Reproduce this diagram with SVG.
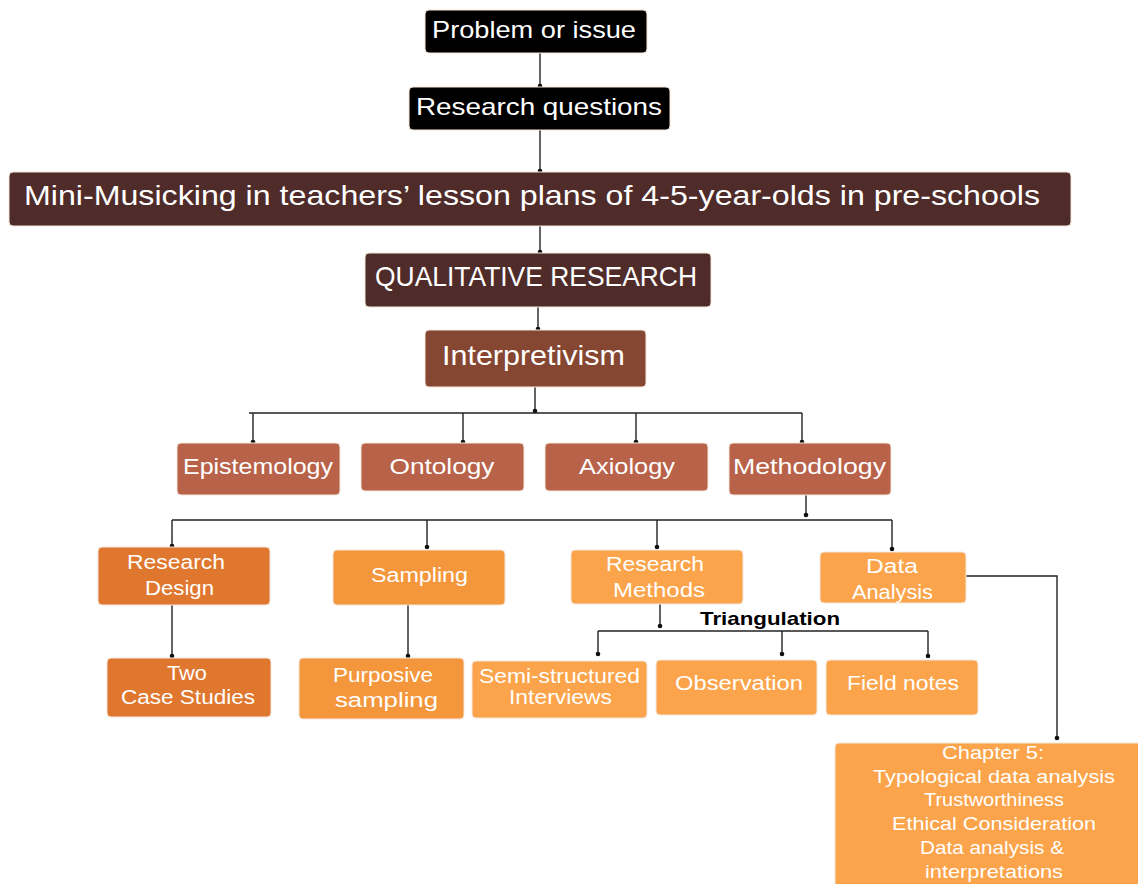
<svg xmlns="http://www.w3.org/2000/svg" width="1138" height="884" viewBox="0 0 1138 884">
  <defs>
    <marker id="dot" viewBox="0 0 6 6" refX="3" refY="3" markerWidth="6" markerHeight="6" markerUnits="userSpaceOnUse">
      <circle cx="3" cy="3" r="2.3" fill="#111"/>
    </marker>
  </defs>
  <style>
    .box { stroke: #f3e6dc; stroke-width: 1; }
    .k { fill: #000000; }
    .dk { fill: #4f2c29; }
    .ip { fill: #854632; }
    .l3 { fill: #b9624a; }
    .rd { fill: #df772f; }
    .sm { fill: #f4963b; }
    .lt { fill: #fba44b; }
    text { font-family: "Liberation Sans", Arial, sans-serif; fill: #ffffff; text-anchor: middle; }
    .t24 { font-size: 24px; }
    .t28 { font-size: 28px; }
    .t22 { font-size: 22px; }
    .t20 { font-size: 20px; }
    .t19 { font-size: 19px; }
    .tri { font-size: 19px; font-weight: bold; fill: #000000; }
    .c { fill: none; stroke: #222; stroke-width: 1.4; }
  </style>

  <rect width="1138" height="884" fill="#ffffff"/>

  <!-- connectors -->
  <g id="connectors">
    <path class="c" d="M540 53 V86" marker-end="url(#dot)"/>
    <path class="c" d="M540 130 V171" marker-end="url(#dot)"/>
    <path class="c" d="M540 226 V252" marker-end="url(#dot)"/>
    <path class="c" d="M538 307 V329" marker-end="url(#dot)"/>
    <path class="c" d="M535 387 V411" marker-end="url(#dot)"/>
    <path class="c" d="M249 413 H802"/>
    <path class="c" d="M253 413 V442" marker-end="url(#dot)"/>
    <path class="c" d="M463 413 V442" marker-end="url(#dot)"/>
    <path class="c" d="M636 413 V442" marker-end="url(#dot)"/>
    <path class="c" d="M802 413 V442" marker-end="url(#dot)"/>
    <path class="c" d="M806 495 V515" marker-end="url(#dot)"/>
    <path class="c" d="M172 520 H892"/>
    <path class="c" d="M172 520 V546" marker-end="url(#dot)"/>
    <path class="c" d="M427 520 V547" marker-end="url(#dot)"/>
    <path class="c" d="M657 520 V547" marker-end="url(#dot)"/>
    <path class="c" d="M892 520 V549" marker-end="url(#dot)"/>
    <path class="c" d="M172 605 V656" marker-end="url(#dot)"/>
    <path class="c" d="M408 605 V656" marker-end="url(#dot)"/>
    <path class="c" d="M660 604 V626" marker-end="url(#dot)"/>
    <path class="c" d="M598 631 H928"/>
    <path class="c" d="M598 631 V654" marker-end="url(#dot)"/>
    <path class="c" d="M782 631 V654" marker-end="url(#dot)"/>
    <path class="c" d="M928 631 V656" marker-end="url(#dot)"/>
    <path class="c" d="M966 576 H1057 V738" marker-end="url(#dot)"/>
  </g>

  <g id="problem">
    <rect class="box k" x="425" y="10" width="222" height="43" rx="4"/>
    <text class="t24" x="534" y="38" textLength="204" lengthAdjust="spacingAndGlyphs">Problem or issue</text>
  </g>
  <g id="questions">
    <rect class="box k" x="409" y="87" width="261" height="43" rx="4"/>
    <text class="t24" x="539" y="115" textLength="246" lengthAdjust="spacingAndGlyphs">Research questions</text>
  </g>
  <g id="topic">
    <rect class="box dk" x="9" y="172" width="1062" height="54" rx="4"/>
    <text class="t28" x="532" y="205" textLength="1016" lengthAdjust="spacingAndGlyphs">Mini-Musicking in teachers’ lesson plans of 4-5-year-olds in pre-schools</text>
  </g>
  <g id="qualitative">
    <rect class="box dk" x="365" y="253" width="346" height="54" rx="4"/>
    <text class="t28" x="536" y="286" textLength="322" lengthAdjust="spacingAndGlyphs">QUALITATIVE RESEARCH</text>
  </g>
  <g id="interpretivism">
    <rect class="box ip" x="425" y="330" width="221" height="57" rx="4"/>
    <text class="t28" x="533.5" y="365" textLength="183" lengthAdjust="spacingAndGlyphs">Interpretivism</text>
  </g>

  <g id="epistemology">
    <rect class="box l3" x="177" y="443" width="163" height="52" rx="4"/>
    <text class="t22" x="258" y="474" textLength="150" lengthAdjust="spacingAndGlyphs">Epistemology</text>
  </g>
  <g id="ontology">
    <rect class="box l3" x="361" y="443" width="163" height="48" rx="4"/>
    <text class="t22" x="442" y="474" textLength="105" lengthAdjust="spacingAndGlyphs">Ontology</text>
  </g>
  <g id="axiology">
    <rect class="box l3" x="545" y="443" width="163" height="48" rx="4"/>
    <text class="t22" x="627" y="474" textLength="96" lengthAdjust="spacingAndGlyphs">Axiology</text>
  </g>
  <g id="methodology">
    <rect class="box l3" x="729" y="443" width="162" height="52" rx="4"/>
    <text class="t22" x="809.5" y="474" textLength="153" lengthAdjust="spacingAndGlyphs">Methodology</text>
  </g>

  <g id="research-design">
    <rect class="box rd" x="98" y="547" width="172" height="58" rx="4"/>
    <text class="t20" x="176" y="569" textLength="98" lengthAdjust="spacingAndGlyphs">Research</text>
    <text class="t20" x="179.5" y="595" textLength="69" lengthAdjust="spacingAndGlyphs">Design</text>
  </g>
  <g id="sampling">
    <rect class="box sm" x="333" y="550" width="172" height="55" rx="4"/>
    <text class="t20" x="419.5" y="582" textLength="97" lengthAdjust="spacingAndGlyphs">Sampling</text>
  </g>
  <g id="research-methods">
    <rect class="box lt" x="571" y="550" width="172" height="54" rx="4"/>
    <text class="t20" x="655" y="571" textLength="98" lengthAdjust="spacingAndGlyphs">Research</text>
    <text class="t20" x="659" y="597" textLength="92" lengthAdjust="spacingAndGlyphs">Methods</text>
  </g>
  <g id="data-analysis">
    <rect class="box lt" x="820" y="552" width="146" height="51" rx="4"/>
    <text class="t20" x="892" y="573" textLength="52" lengthAdjust="spacingAndGlyphs">Data</text>
    <text class="t20" x="892.5" y="599" textLength="81" lengthAdjust="spacingAndGlyphs">Analysis</text>
  </g>

  <g id="case-studies">
    <rect class="box rd" x="107" y="658" width="164" height="59" rx="4"/>
    <text class="t20" x="187" y="680" textLength="40" lengthAdjust="spacingAndGlyphs">Two</text>
    <text class="t20" x="188" y="704" textLength="134" lengthAdjust="spacingAndGlyphs">Case Studies</text>
  </g>
  <g id="purposive">
    <rect class="box sm" x="299" y="658" width="165" height="61" rx="4"/>
    <text class="t20" x="383" y="682" textLength="100" lengthAdjust="spacingAndGlyphs">Purposive</text>
    <text class="t20" x="386.5" y="707" textLength="103" lengthAdjust="spacingAndGlyphs">sampling</text>
  </g>

  <text class="tri" x="770" y="625" textLength="140" lengthAdjust="spacingAndGlyphs">Triangulation</text>

  <g id="interviews">
    <rect class="box lt" x="472" y="661" width="175" height="57" rx="4"/>
    <text class="t20" x="559.5" y="683" textLength="161" lengthAdjust="spacingAndGlyphs">Semi-structured</text>
    <text class="t20" x="560.5" y="704" textLength="103" lengthAdjust="spacingAndGlyphs">Interviews</text>
  </g>
  <g id="observation">
    <rect class="box lt" x="656" y="660" width="161" height="55" rx="4"/>
    <text class="t20" x="739" y="690" textLength="128" lengthAdjust="spacingAndGlyphs">Observation</text>
  </g>
  <g id="field-notes">
    <rect class="box lt" x="826" y="660" width="152" height="55" rx="4"/>
    <text class="t20" x="903" y="690" textLength="112" lengthAdjust="spacingAndGlyphs">Field notes</text>
  </g>

  <g id="chapter5">
    <rect class="box lt" x="835" y="743" width="310" height="150" rx="4"/>
    <text class="t19" x="993" y="759" textLength="102" lengthAdjust="spacingAndGlyphs">Chapter 5:</text>
    <text class="t19" x="994" y="783" textLength="242" lengthAdjust="spacingAndGlyphs">Typological data analysis</text>
    <text class="t19" x="994" y="806" textLength="140" lengthAdjust="spacingAndGlyphs">Trustworthiness</text>
    <text class="t19" x="994" y="830" textLength="204" lengthAdjust="spacingAndGlyphs">Ethical Consideration</text>
    <text class="t19" x="992" y="854" textLength="144" lengthAdjust="spacingAndGlyphs">Data analysis &amp;</text>
    <text class="t19" x="994" y="878" textLength="138" lengthAdjust="spacingAndGlyphs">interpretations</text>
  </g>
</svg>
